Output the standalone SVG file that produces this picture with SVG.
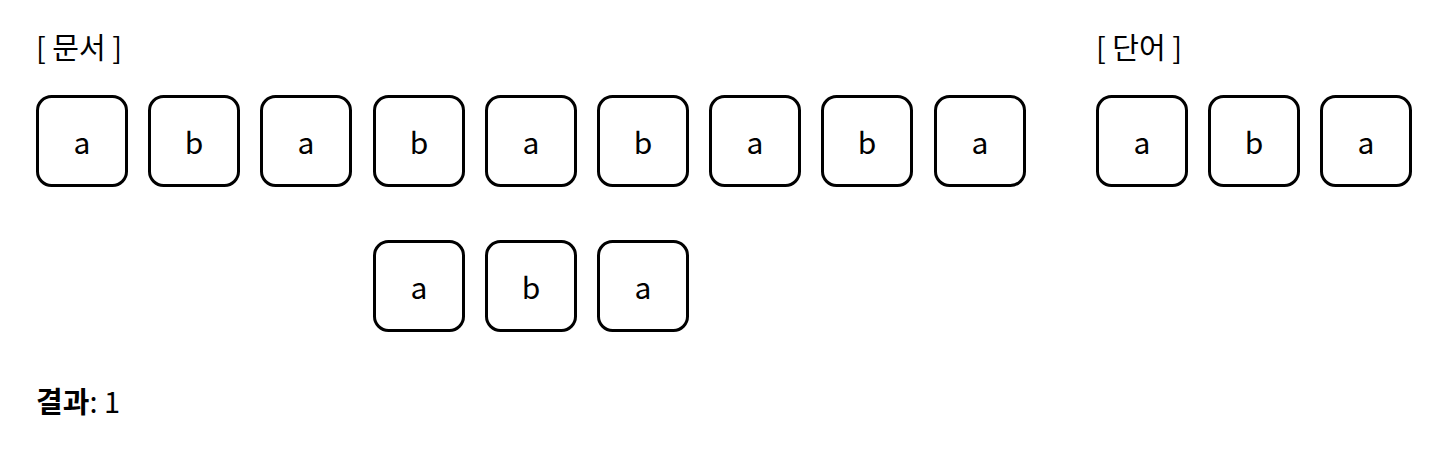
<svg xmlns="http://www.w3.org/2000/svg" width="1450" height="450" viewBox="0 0 1450 450">
<style>
.box{fill:#fff;stroke:#000;stroke-width:3}
.t{font-family:"Noto Sans CJK KR","Noto Sans",sans-serif;font-size:30px;fill:#000;text-anchor:middle}
.h{font-family:"Noto Sans CJK KR","Noto Sans",sans-serif;font-size:29px;fill:#000}
</style>
<rect width="1450" height="450" fill="#fff"/>
<text class="h" x="36" y="59">[ 문서 ]</text>
<text class="h" x="1096" y="59">[ 단어 ]</text>
<g id="d1"><rect class="box" x="37.5" y="96.5" width="89" height="89" rx="14"/><text class="t" x="82" y="154">a</text></g>
<g id="d2"><rect class="box" x="149.5" y="96.5" width="89" height="89" rx="14"/><text class="t" x="194" y="154">b</text></g>
<g id="d3"><rect class="box" x="261.5" y="96.5" width="89" height="89" rx="14"/><text class="t" x="306" y="154">a</text></g>
<g id="d4"><rect class="box" x="374.5" y="96.5" width="89" height="89" rx="14"/><text class="t" x="419" y="154">b</text></g>
<g id="d5"><rect class="box" x="486.5" y="96.5" width="89" height="89" rx="14"/><text class="t" x="531" y="154">a</text></g>
<g id="d6"><rect class="box" x="598.5" y="96.5" width="89" height="89" rx="14"/><text class="t" x="643" y="154">b</text></g>
<g id="d7"><rect class="box" x="710.5" y="96.5" width="89" height="89" rx="14"/><text class="t" x="755" y="154">a</text></g>
<g id="d8"><rect class="box" x="822.5" y="96.5" width="89" height="89" rx="14"/><text class="t" x="867" y="154">b</text></g>
<g id="d9"><rect class="box" x="935.5" y="96.5" width="89" height="89" rx="14"/><text class="t" x="980" y="154">a</text></g>
<g id="w1"><rect class="box" x="1097.5" y="96.5" width="89" height="89" rx="14"/><text class="t" x="1142" y="154">a</text></g>
<g id="w2"><rect class="box" x="1209.5" y="96.5" width="89" height="89" rx="14"/><text class="t" x="1254" y="154">b</text></g>
<g id="w3"><rect class="box" x="1321.5" y="96.5" width="89" height="89" rx="14"/><text class="t" x="1366" y="154">a</text></g>
<g id="m1"><rect class="box" x="374.5" y="241.5" width="89" height="89" rx="14"/><text class="t" x="419" y="299">a</text></g>
<g id="m2"><rect class="box" x="486.5" y="241.5" width="89" height="89" rx="14"/><text class="t" x="531" y="299">b</text></g>
<g id="m3"><rect class="box" x="598.5" y="241.5" width="89" height="89" rx="14"/><text class="t" x="643" y="299">a</text></g>
<g id="connectors"></g>
<text class="h" x="36" y="413"><tspan font-weight="bold">결과</tspan>: 1</text>
</svg>
